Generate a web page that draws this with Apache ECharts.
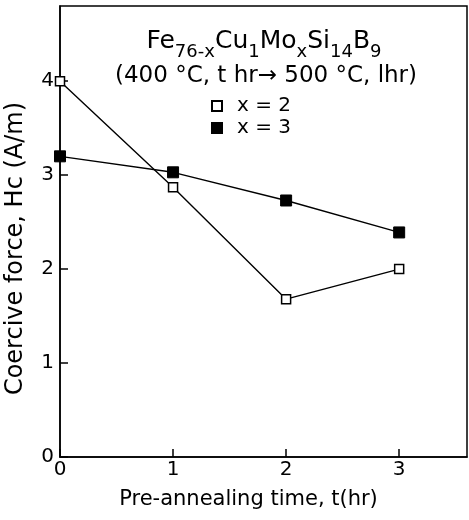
<!DOCTYPE html>
<html>
<head>
<meta charset="utf-8">
<script src="https://cdn.jsdelivr.net/npm/echarts@6/dist/echarts.min.js"></script>
<style>
html,body{margin:0;padding:0;background:#fff;}
#main{width:469px;height:520px;}
</style>
</head>
<body>
<div id="main"></div>
<script>
var times = [0, 1, 2, 3];
var hcX2 = [4.0, 2.87, 1.68, 2.0];
var hcX3 = [3.2, 3.03, 2.73, 2.39];
var yTicks = [0, 1, 2, 3, 4];
var xTicks = [0, 1, 2, 3];

function pairs(xs, ys){
    var out = [];
    for(var i=0;i<xs.length;i++){ out.push([xs[i], ys[i]]); }
    return out;
}

var font = 'DejaVu Sans';
var chart = echarts.init(document.getElementById('main'));
chart.setOption({
    backgroundColor: '#fff',
    animation: false,
    grid: {
        left: 60, top: 6, right: 2, bottom: 63,
        show: true, borderColor: '#000', borderWidth: 1.5,
        outerBoundsMode: 'none'
    },
    legend: {
        orient: 'vertical',
        left: 206, top: 91,
        itemWidth: 10, itemHeight: 10, itemGap: 2,
        textStyle: {fontFamily: font, fontSize: 20, color: '#000', padding: [0, 0, 0, 10]},
        data: [
            {name: 'x = 2', icon: 'rect'},
            {name: 'x = 3', icon: 'rect'}
        ]
    },
    graphic: [{
        type: 'text',
        x: 264, y: 45,
        style: {
            text: '{n|Fe}{s|76-x}{n|Cu}{s|1}{n|Mo}{s|x}{n|Si}{s|14}{n|B}{s|9}',
            align: 'center', verticalAlign: 'middle',
            rich: {
                n: {fontFamily: font, fontSize: 25, fill: '#000', lineHeight: 32, verticalAlign: 'top'},
                s: {fontFamily: font, fontSize: 18, fill: '#000', lineHeight: 32, verticalAlign: 'bottom', padding: [9, 0, 0, 0]}
            }
        }
    }, {
        type: 'text',
        x: 266, y: 76,
        style: {
            text: '(400 °C, t hr\u2192 500 °C, lhr)',
            align: 'center', verticalAlign: 'middle',
            fontFamily: font, fontSize: 23, fill: '#000'
        }
    }],
    xAxis: {
        type: 'value',
        min: 0, max: 3.6,
        name: 'Pre-annealing time, t(hr)',
        nameLocation: 'middle',
        nameGap: 32,
        nameTextStyle: {fontFamily: font, fontSize: 21, color: '#000', padding: [0, 30, 0, 0]},
        axisLine: {lineStyle: {color: '#000', width: 1.5}},
        axisTick: {inside: true, length: 8, customValues: xTicks, lineStyle: {color: '#000', width: 1.5}},
        axisLabel: {customValues: xTicks, margin: 3, fontFamily: font, fontSize: 20, color: '#000'},
        splitLine: {show: false}
    },
    yAxis: {
        type: 'value',
        min: 0, max: 4.8,
        name: 'Coercive force, Hc (A/m)',
        nameLocation: 'middle',
        nameGap: 32,
        nameTextStyle: {fontFamily: font, fontSize: 24, color: '#000', padding: [0, 34, 0, 0]},
        axisLine: {lineStyle: {color: '#000', width: 1.5}},
        axisTick: {inside: true, length: 8, customValues: yTicks, lineStyle: {color: '#000', width: 1.5}},
        axisLabel: {customValues: yTicks, margin: 6, fontFamily: font, fontSize: 20, color: '#000'},
        splitLine: {show: false}
    },
    series: [{
        name: 'x = 2',
        type: 'line',
        data: pairs(times, hcX2),
        symbol: 'rect', symbolSize: 9,
        itemStyle: {color: '#fff', borderColor: '#000', borderWidth: 1.5},
        lineStyle: {color: '#000', width: 1.4},
        z: 3
    }, {
        name: 'x = 3',
        type: 'line',
        data: pairs(times, hcX3),
        symbol: 'rect', symbolSize: 11,
        itemStyle: {color: '#000', borderColor: '#000', borderWidth: 1},
        lineStyle: {color: '#000', width: 1.4},
        z: 2
    }]
});
</script>
</body>
</html>
